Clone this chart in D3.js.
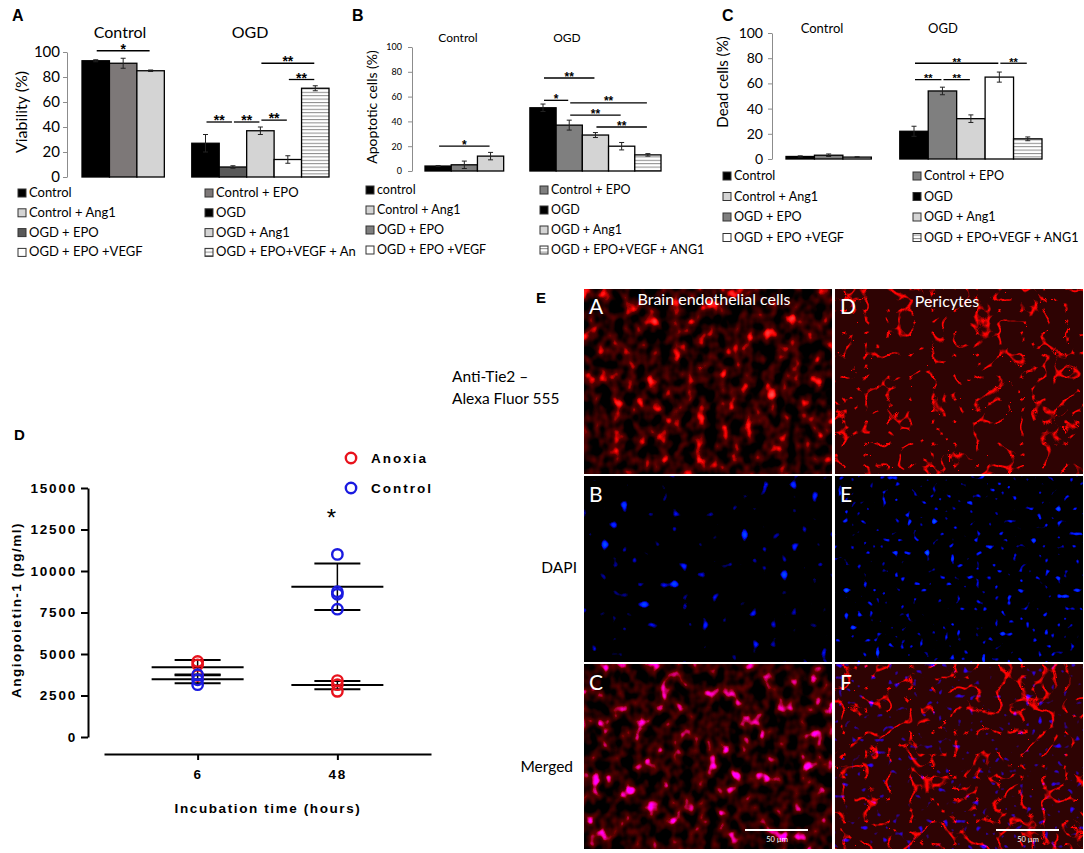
<!DOCTYPE html>
<html>
<head>
<meta charset="utf-8">
<script src="https://cdn.jsdelivr.net/npm/d3@7"></script>
<style>
  body { margin: 0; background: #fff; }
  svg { display: block; }
  filter { color-interpolation-filters: sRGB; }
</style>
</head>
<body>
<svg id="fig" width="1084" height="853"></svg>
<script>
// ---- data: panels A-C (bar charts) ----
const controlSeries = ['Control', 'Control + EPO', 'Control + Ang1'];
const ogdSeries = ['OGD', 'OGD + EPO', 'OGD + Ang1', 'OGD + EPO +VEGF', 'OGD + EPO+VEGF + ANG1'];
const groupTitles = ['Control', 'OGD'];
const pctTicks = [0, 20, 40, 60, 80, 100];

const viabilityValues = [93, 91, 85, 27, 8, 37, 14, 71];
const viabilityErrors = [0.8, 4, 0.6, 7, 1, 3, 3, 2];
const apoptoticValues = [4, 5, 12, 51, 37, 29, 20, 13];
const apoptoticErrors = [0.4, 3, 3, 3, 4, 2, 3, 1];
const deadValues = [2, 3, 1.5, 22, 54, 32, 65, 16];
const deadErrors = [0.5, 1, 0.3, 4, 3, 3, 4, 1.5];

// significance brackets: [from series, to series, level, label]
const viabilitySig = [[0, 2, 101, '*'], [3, 4, 44, '**'], [4, 5, 44, '**'], [5, 6, 45.5, '**'], [5, 7, 91, '**'], [6, 7, 78, '**']];
const apoptoticSig = [[0, 2, 20, '*'], [3, 5, 75, '**'], [3, 4, 57, '*'], [4, 7, 55, '**'], [4, 6, 45, '**'], [5, 7, 35.5, '**']];
const deadSig = [[3, 6, 76, '**'], [6, 7, 76, '**'], [3, 4, 63, '**'], [4, 5, 63, '**']];

// legend: series index per entry, and the text shown
const legendOrder = [0, 2, 4, 6, 1, 3, 5, 7];
const legendTextA = ['Control', 'Control + Ang1', 'OGD + EPO', 'OGD + EPO +VEGF', 'Control + EPO', 'OGD', 'OGD + Ang1', 'OGD + EPO+VEGF + An'];
const legendTextB = ['control', 'Control + Ang1', 'OGD + EPO', 'OGD + EPO +VEGF', 'Control + EPO', 'OGD', 'OGD + Ang1', 'OGD + EPO+VEGF + ANG1'];
const legendTextC = ['Control', 'Control + Ang1', 'OGD + EPO', 'OGD + EPO +VEGF', 'Control + EPO', 'OGD', 'OGD + Ang1', 'OGD + EPO+VEGF + ANG1'];

// ---- data: panel D ----
const timePoints = ['6', '48'];
const anoxiaPoints = [[4550, 4350, 3700], [3400, 3150, 2750]];
const controlPoints = [[3750, 3450, 3150], [11000, 8750, 8600, 7700]];
const anoxiaMean = [4200, 3130];
const anoxiaErr = [440, 250];
const controlMean = [3480, 9050];
const controlErr = [240, 1400];
const angTicks = [0, 2500, 5000, 7500, 10000, 12500, 15000];

// ---- data: panel E ----
const micrographRows = ['Anti-Tie2 –\nAlexa Fluor 555', 'DAPI', 'Merged'];
const micrographCols = ['Brain endothelial cells', 'Pericytes'];
const micrographLetters = [['A', 'D'], ['B', 'E'], ['C', 'F']];

const svg = d3.select('#fig');
const calibri = 'Lato, "Open Sans", sans-serif';
const arial = '"Liberation Sans", Arial, sans-serif';

// ---- defs: stripe pattern + micrograph textures ----
const defs = svg.append('defs');
const stripes = defs.append('pattern').attr('id', 'stripes')
  .attr('patternUnits', 'userSpaceOnUse').attr('width', 6).attr('height', 3.4);
stripes.append('rect').attr('width', 6).attr('height', 3.4).attr('fill', '#fff');
stripes.append('rect').attr('width', 6).attr('height', 1).attr('fill', '#8a8a8a');

// texture filters (seeded noise, so the look is fixed)
const endoNoise = '<feTurbulence type="fractalNoise" baseFrequency="0.085 0.07" numOctaves="2" seed="11" result="n"/>';
const endoBody = '<feColorMatrix in="n" type="matrix" values="1.2 0 0 0 -0.44  0 0 0 0 0  0 0 0 0 0  0 0 0 0 1" result="body"/>';
const periLines = '<feTurbulence type="turbulence" baseFrequency="0.045" numOctaves="2" seed="4" result="t"/>' +
  '<feColorMatrix in="t" type="matrix" values="-12 0 0 0 1.35  0 0 0 0 0  0 0 0 0 0  0 0 0 0 1" result="lines"/>' +
  '<feFlood flood-color="#2e0303" result="bg"/>' +
  '<feBlend in="lines" in2="bg" mode="screen" result="red"/>';

defs.html(defs.html() + `
<filter id="fEndo" x="0" y="0" width="1" height="1" color-interpolation-filters="sRGB">
  ${endoNoise}${endoBody}
  <feColorMatrix in="n" type="matrix" values="8 0 0 0 -5.2  1.6 0 0 0 -1.2  1.6 0 0 0 -1.2  0 0 0 0 1" result="nuc"/>
  <feBlend in="nuc" in2="body" mode="screen"/>
</filter>
<filter id="fPeri" x="0" y="0" width="1" height="1" color-interpolation-filters="sRGB">
  ${periLines}
</filter>
<filter id="fDapiA" x="0" y="0" width="1" height="1" color-interpolation-filters="sRGB">
  <feTurbulence type="fractalNoise" baseFrequency="0.1" numOctaves="1" seed="21" result="n"/>
  <feColorMatrix in="n" type="matrix" values="0 0 0 0 0  0 0 3 0 -2.2  0 0 12 0 -8.1  0 0 0 0 1"/>
</filter>
<filter id="fDapiD" x="0" y="0" width="1" height="1" color-interpolation-filters="sRGB">
  <feTurbulence type="fractalNoise" baseFrequency="0.16" numOctaves="1" seed="8" result="n"/>
  <feColorMatrix in="n" type="matrix" values="0 0 0 0 0  0 0 3 0 -2.1  0 0 12 0 -7.8  0 0 0 0 1"/>
</filter>
<filter id="fMergeA" x="0" y="0" width="1" height="1" color-interpolation-filters="sRGB">
  ${endoNoise}${endoBody}
  <feColorMatrix in="n" type="matrix" values="8 0 0 0 -5.2  0 0 0 0 0  7 0 0 0 -4.7  0 0 0 0 1" result="nuc"/>
  <feBlend in="nuc" in2="body" mode="screen"/>
</filter>
<filter id="fMergeD" x="0" y="0" width="1" height="1" color-interpolation-filters="sRGB">
  ${periLines}
  <feTurbulence type="fractalNoise" baseFrequency="0.16" numOctaves="1" seed="8" result="d"/>
  <feColorMatrix in="d" type="matrix" values="0 0 0 0 0  0 0 0 0 0  0 0 8 0 -5.2  0 0 0 0 1" result="blue"/>
  <feBlend in="blue" in2="red" mode="screen"/>
</filter>`);

// ---- bar panel helper ----
const seriesAll = [...controlSeries, ...ogdSeries];
const barSlots = [...controlSeries, 'gap', ...ogdSeries];

function drawBarPanel(p) {
  const g = svg.append('g').attr('font-family', calibri);
  const x = d3.scaleBand().domain(barSlots).range(p.xRange).padding(0);
  const y = d3.scaleLinear().domain([0, 100]).range(p.yRange);
  const cx = i => x(seriesAll[i]) + x.bandwidth() / 2;

  g.append('text').attr('x', p.letter[1]).attr('y', p.letter[2])
    .attr('font-family', arial).attr('font-weight', 'bold').attr('font-size', 16).text(p.letter[0]);

  // y axis
  g.append('g').attr('transform', `translate(${p.axisX},0)`)
    .call(d3.axisLeft(y).tickValues(pctTicks).tickSize(4).tickSizeOuter(0).tickPadding(p.tickPad))
    .call(a => a.select('.domain').attr('stroke', '#8c8c8c'))
    .call(a => a.selectAll('.tick line').attr('stroke', '#8c8c8c'))
    .call(a => a.selectAll('.tick text').attr('font-size', p.tickFont).attr('font-family', calibri).attr('fill', '#000'));

  g.append('text')
    .attr('transform', `translate(${p.yLabel[1]},${p.yLabel[2]}) rotate(-90)`)
    .attr('text-anchor', 'middle').attr('font-size', p.yLabelFont).text(p.yLabel[0]);

  // group titles
  g.selectAll('text.grp').data(groupTitles).join('text')
    .attr('x', (d, i) => p.titleX[i]).attr('y', p.titleY)
    .attr('text-anchor', 'middle').attr('font-size', p.titleFont).text(d => d);

  // bars
  g.selectAll('rect.bar').data(seriesAll).join('rect')
    .attr('x', d => x(d)).attr('width', x.bandwidth())
    .attr('y', (d, i) => y(p.values[i]))
    .attr('height', (d, i) => y(0) - y(p.values[i]))
    .attr('fill', (d, i) => p.fills[i])
    .attr('stroke', '#000').attr('stroke-width', 1.3);

  // error bars
  const eb = g.append('g').attr('stroke', '#222').attr('stroke-width', 1);
  seriesAll.forEach((s, i) => {
    const v = p.values[i], e = p.errors[i];
    eb.append('line').attr('x1', cx(i)).attr('x2', cx(i)).attr('y1', y(v - e)).attr('y2', y(v + e));
    eb.append('line').attr('x1', cx(i) - 2.5).attr('x2', cx(i) + 2.5).attr('y1', y(v - e)).attr('y2', y(v - e));
    eb.append('line').attr('x1', cx(i) - 2.5).attr('x2', cx(i) + 2.5).attr('y1', y(v + e)).attr('y2', y(v + e));
  });

  // significance brackets (asterisks sit just above the line)
  p.sig.forEach(([a, b, lvl, lab]) => {
    g.append('line').attr('x1', cx(a) + 1).attr('x2', cx(b) - 1)
      .attr('y1', y(lvl)).attr('y2', y(lvl)).attr('stroke', '#000').attr('stroke-width', 1.3);
    g.append('text').attr('x', (cx(a) + cx(b)) / 2).attr('y', y(lvl) + p.starFont * 0.22)
      .attr('text-anchor', 'middle').attr('font-size', p.starFont).attr('font-family', arial)
      .attr('font-weight', 'bold').text(lab);
  });

  // legend
  legendOrder.forEach((si, k) => {
    const col = k < 4 ? 0 : 1, row = k % 4;
    const ly = p.legY + row * p.legDY;
    g.append('rect').attr('x', p.legX[col]).attr('y', ly - 8).attr('width', 8).attr('height', 8)
      .attr('fill', p.fills[si]).attr('stroke', '#333').attr('stroke-width', 1);
    g.append('text').attr('x', p.legX[col] + 11).attr('y', ly)
      .attr('font-size', p.legFont).text(p.legendText[k]);
  });
}

const fillsA = ['#000', '#7d7878', '#d4d4d4', '#000', '#595959', '#d4d4d4', '#fff', 'url(#stripes)'];
const fillsBC = ['#000', '#7f7f7f', '#d4d4d4', '#000', '#7f7f7f', '#d4d4d4', '#fff', 'url(#stripes)'];

drawBarPanel({
  letter: ['A', 12, 21], xRange: [82, 329], yRange: [177, 52], axisX: 67, tickPad: 3, tickFont: 15,
  yLabel: ['Viability (%)', 27, 112], yLabelFont: 16, titleX: [120, 250], titleY: 38, titleFont: 16,
  values: viabilityValues, errors: viabilityErrors, fills: fillsA, sig: viabilitySig, starFont: 14,
  legX: [18, 205], legY: 197, legDY: 19.8, legFont: 13, legendText: legendTextA
});
drawBarPanel({
  letter: ['B', 352, 21], xRange: [425, 661], yRange: [171, 47], axisX: 412, tickPad: 6, tickFont: 9,
  yLabel: ['Apoptotic cells (%)', 377, 107], yLabelFont: 14, titleX: [458, 567], titleY: 42, titleFont: 12,
  values: apoptoticValues, errors: apoptoticErrors, fills: fillsBC, sig: apoptoticSig, starFont: 12,
  legX: [366, 540], legY: 194, legDY: 20, legFont: 12.5, legendText: legendTextB
});
drawBarPanel({
  letter: ['C', 722, 21], xRange: [786, 1042], yRange: [159, 33], axisX: 772, tickPad: 5, tickFont: 14,
  yLabel: ['Dead  cells (%)', 728, 82], yLabelFont: 15, titleX: [822, 943], titleY: 33, titleFont: 13,
  values: deadValues, errors: deadErrors, fills: fillsBC, sig: deadSig, starFont: 11,
  legX: [723, 913], legY: 180, legDY: 20.5, legFont: 12.6, legendText: legendTextC
});

// ---- panel D: scatter with mean +/- error ----
(function () {
  const g = svg.append('g').attr('font-family', arial).attr('font-weight', 'bold');
  const y = d3.scaleLinear().domain([0, 15000]).range([737, 488]);
  const x = d3.scalePoint().domain(timePoints).range([104, 431]).padding(0.67);

  g.append('text').attr('x', 14).attr('y', 440).attr('font-size', 15).text('D');

  g.append('g').attr('transform', 'translate(88,0)')
    .call(d3.axisLeft(y).tickValues(angTicks).tickFormat(d3.format('d')).tickSize(7).tickSizeOuter(0).tickPadding(4))
    .call(a => a.select('.domain').attr('stroke-width', 2))
    .call(a => a.selectAll('.tick line').attr('stroke-width', 2))
    .call(a => a.selectAll('.tick text').attr('font-size', 13.5).attr('font-family', arial)
      .attr('font-weight', 'bold').attr('letter-spacing', 1.8));

  g.append('g').attr('transform', 'translate(0,754)')
    .call(d3.axisBottom(x).tickSize(6).tickSizeOuter(0).tickPadding(9))
    .call(a => a.select('.domain').attr('stroke-width', 2))
    .call(a => a.selectAll('.tick line').attr('stroke-width', 2))
    .call(a => a.selectAll('.tick text').attr('font-size', 13.5).attr('font-family', arial)
      .attr('font-weight', 'bold').attr('letter-spacing', 1.8));

  g.append('text').attr('x', 268).attr('y', 813).attr('text-anchor', 'middle')
    .attr('font-size', 13.5).attr('letter-spacing', 1.6).text('Incubation time (hours)');
  g.append('text').attr('transform', 'translate(21,610) rotate(-90)').attr('text-anchor', 'middle')
    .attr('font-size', 13.5).attr('letter-spacing', 1.5).text('Angiopoietin-1 (pg/ml)');

  // mean and error lines
  const stats = [[anoxiaMean, anoxiaErr], [controlMean, controlErr]];
  stats.forEach(([m, e]) => timePoints.forEach((t, i) => {
    const cx = x(t);
    g.append('line').attr('x1', cx - 46).attr('x2', cx + 46).attr('y1', y(m[i])).attr('y2', y(m[i]))
      .attr('stroke', '#000').attr('stroke-width', 2);
    g.append('line').attr('x1', cx).attr('x2', cx).attr('y1', y(m[i] - e[i])).attr('y2', y(m[i] + e[i]))
      .attr('stroke', '#000').attr('stroke-width', 1.5);
    [m[i] - e[i], m[i] + e[i]].forEach(v => g.append('line').attr('x1', cx - 23).attr('x2', cx + 23)
      .attr('y1', y(v)).attr('y2', y(v)).attr('stroke', '#000').attr('stroke-width', 2));
  }));

  const pts = [[anoxiaPoints, '#e8121c'], [controlPoints, '#1a1ae0']];
  pts.forEach(([arr, col]) => timePoints.forEach((t, i) => {
    g.selectAll(null).data(arr[i]).join('circle')
      .attr('cx', x(t)).attr('cy', d => y(d)).attr('r', 5.2)
      .attr('fill', 'none').attr('stroke', col).attr('stroke-width', 2.4);
  }));

  g.append('text').attr('x', x('48') - 6).attr('y', 526).attr('text-anchor', 'middle')
    .attr('font-size', 24).attr('font-weight', 'normal').text('*');

  // legend
  const leg = [['Anoxia', '#e8121c'], ['Control', '#1a1ae0']];
  leg.forEach(([name, col], k) => {
    g.append('circle').attr('cx', 351).attr('cy', 458 + k * 30).attr('r', 5.2)
      .attr('fill', 'none').attr('stroke', col).attr('stroke-width', 2.4);
    g.append('text').attr('x', 371).attr('y', 463 + k * 30).attr('font-size', 13.5)
      .attr('letter-spacing', 2).text(name);
  });
})();

// ---- panel E: micrograph grid ----
(function () {
  const g = svg.append('g').attr('font-family', calibri);
  const xs = d3.scaleBand().domain(micrographCols).range([584, 1083]).paddingInner(0.012);
  const ys = d3.scaleBand().domain(micrographRows).range([289, 849]).paddingInner(0.018);
  const filters = [['fEndo', 'fPeri'], ['fDapiA', 'fDapiD'], ['fMergeA', 'fMergeD']];

  g.append('text').attr('x', 536).attr('y', 303).attr('font-family', arial)
    .attr('font-weight', 'bold').attr('font-size', 15).text('E');

  micrographRows.forEach((r, ri) => micrographCols.forEach((c, ci) => {
    g.append('rect').attr('x', xs(c)).attr('y', ys(r)).attr('width', xs.bandwidth()).attr('height', ys.bandwidth())
      .attr('fill', '#000').attr('filter', `url(#${filters[ri][ci]})`);
    g.append('text').attr('x', xs(c) + 5).attr('y', ys(r) + 25).attr('fill', '#fff')
      .attr('font-size', 21).text(micrographLetters[ri][ci]);
  }));

  // column titles inside top row
  g.append('text').attr('x', xs(micrographCols[0]) + 130).attr('y', 305).attr('text-anchor', 'middle')
    .attr('fill', '#fff').attr('font-size', 16).text(micrographCols[0]);
  g.append('text').attr('x', xs(micrographCols[1]) + 112).attr('y', 307).attr('text-anchor', 'middle')
    .attr('fill', '#fff').attr('font-size', 16).text(micrographCols[1]);

  // row labels
  g.append('text').attr('x', 452).attr('y', 382).attr('font-size', 15.5).text('Anti-Tie2 –');
  g.append('text').attr('x', 452).attr('y', 404).attr('font-size', 15.5).text('Alexa Fluor 555');
  g.append('text').attr('x', 577).attr('y', 573).attr('text-anchor', 'end').attr('font-size', 15.5).text(micrographRows[1]);
  g.append('text').attr('x', 573).attr('y', 772).attr('text-anchor', 'end').attr('font-size', 15.5).text(micrographRows[2]);

  // scale bars
  micrographCols.forEach(c => {
    const bx = xs(c) + xs.bandwidth() - 87;
    g.append('line').attr('x1', bx).attr('x2', bx + 63).attr('y1', 830).attr('y2', 830)
      .attr('stroke', '#fff').attr('stroke-width', 2);
    g.append('text').attr('x', bx + 32).attr('y', 842).attr('text-anchor', 'middle')
      .attr('fill', '#fff').attr('font-size', 7.5).text('50 µm');
  });
})();
</script>
</body>
</html>
